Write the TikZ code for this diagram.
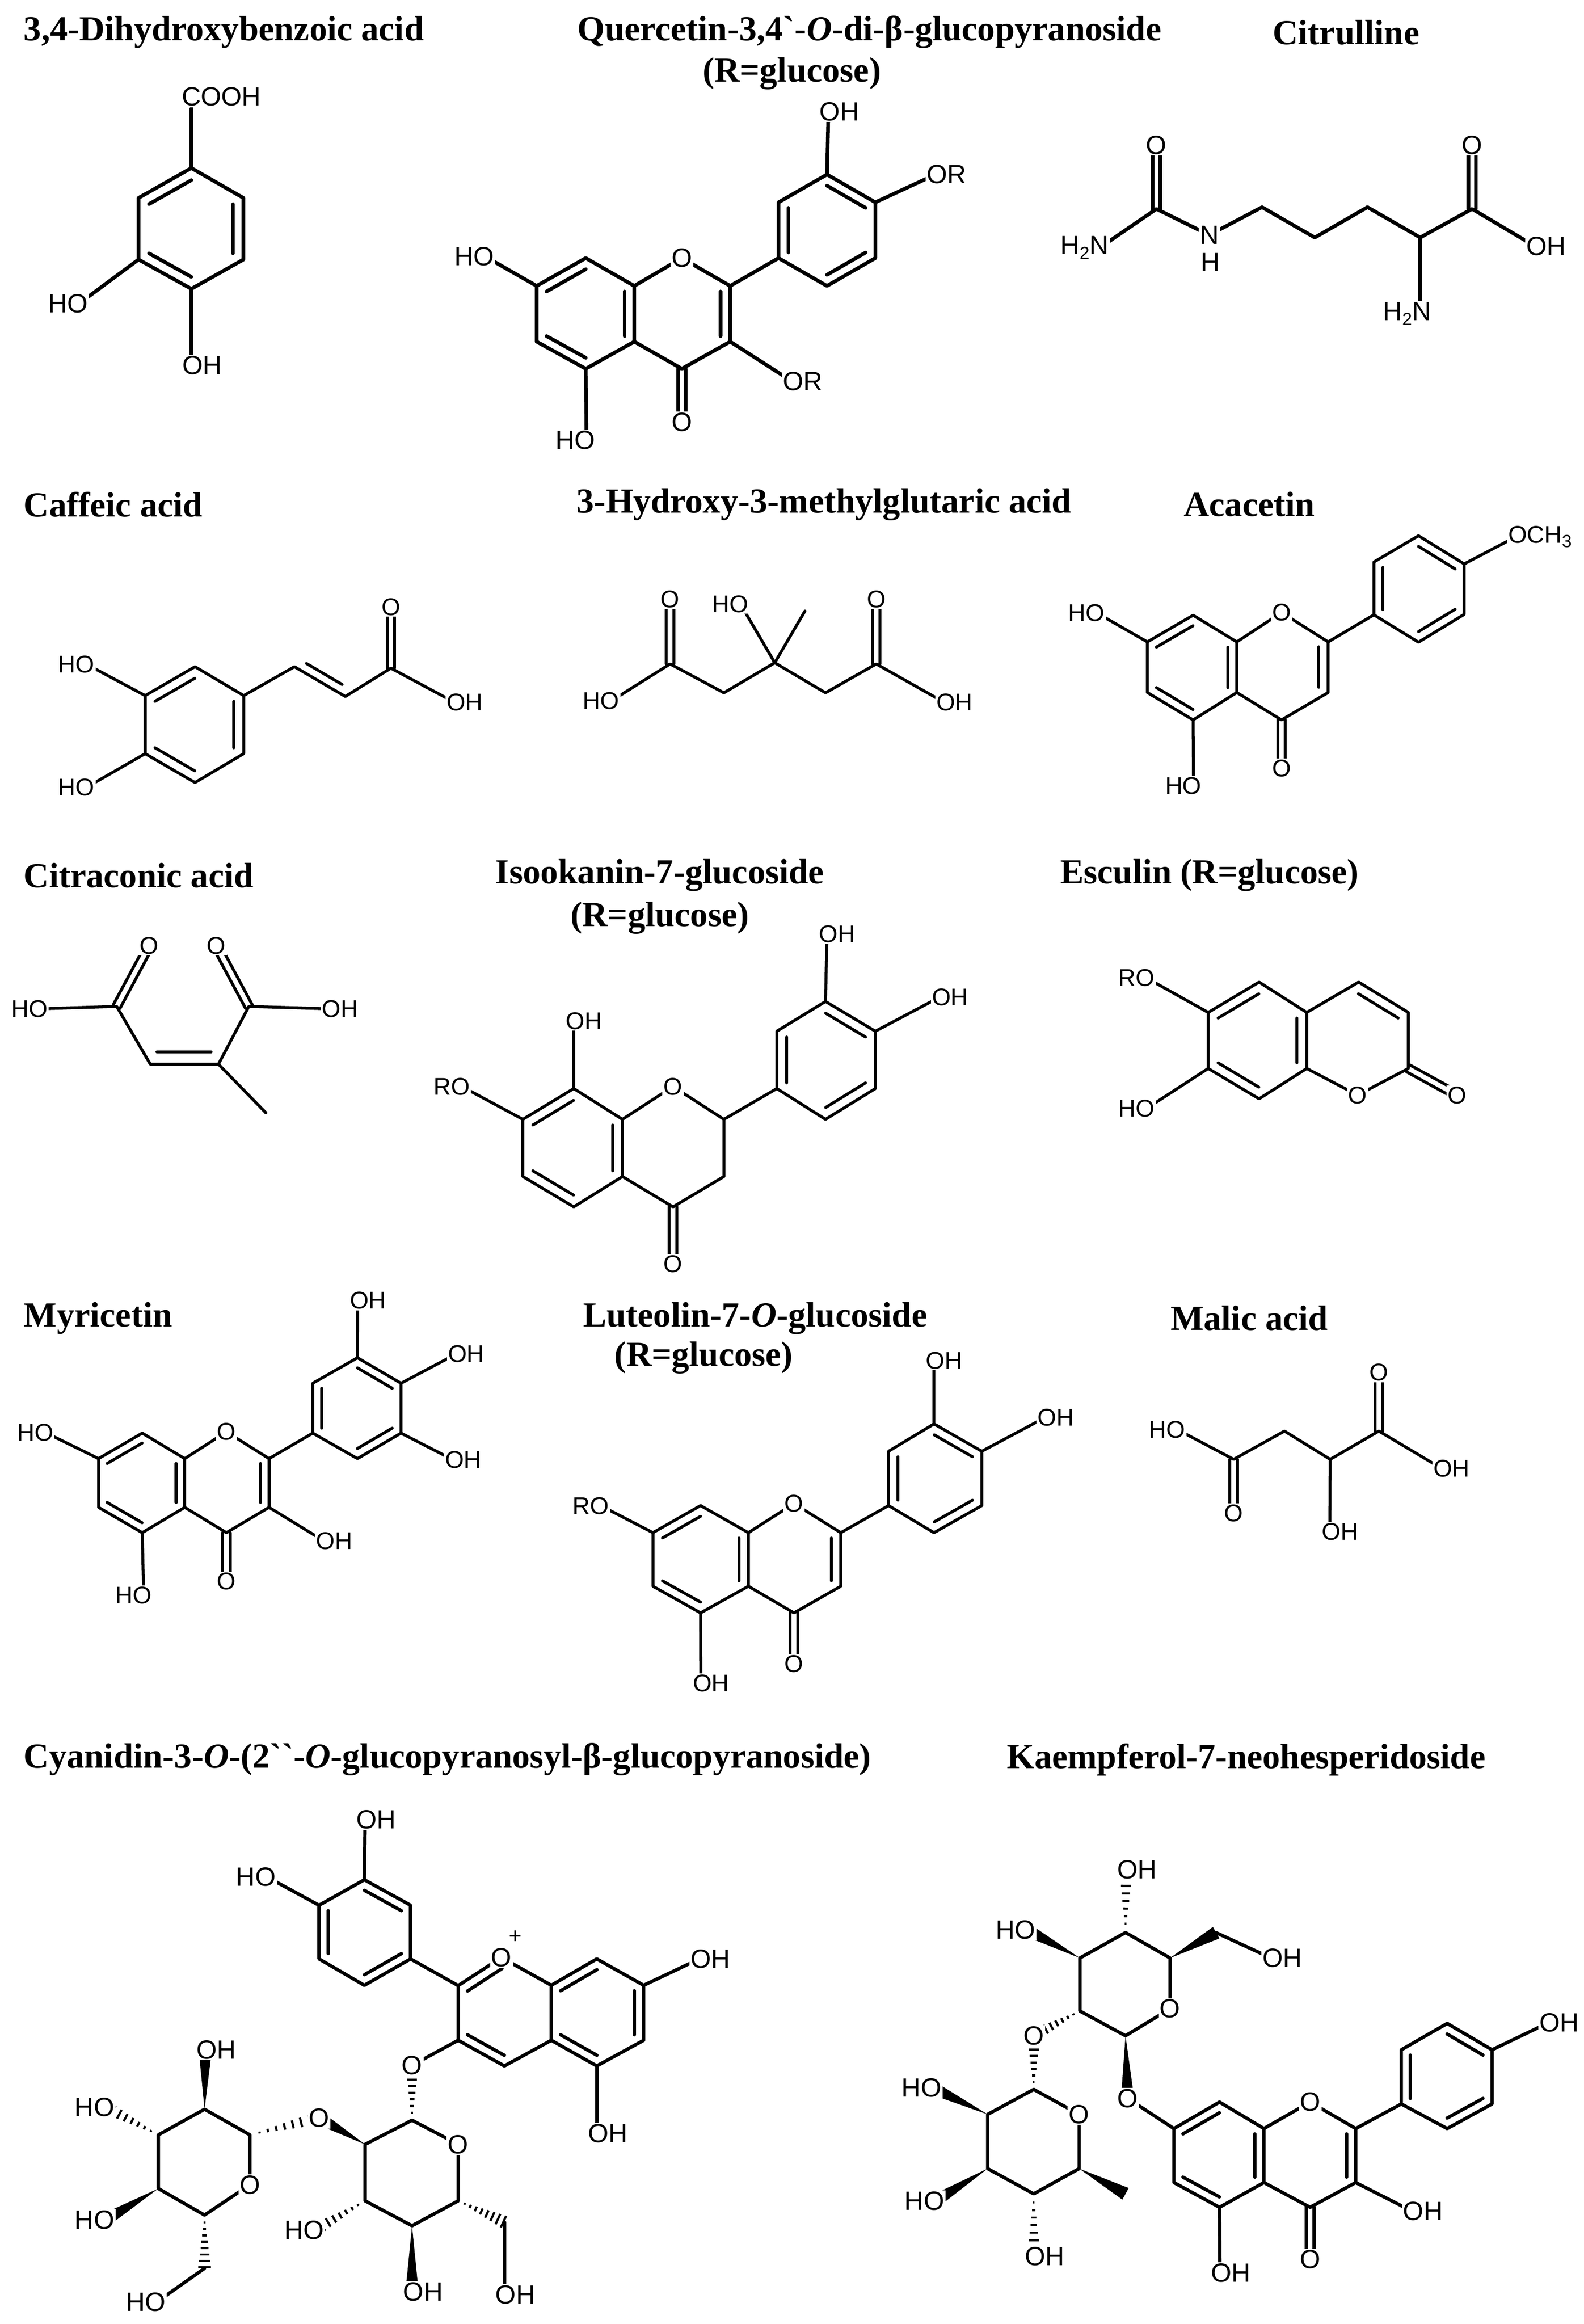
\documentclass[tikz,border=0pt]{standalone}
\usepackage{fontspec}
\setmainfont{Liberation Serif}
\newfontfamily\labf{Liberation Sans}
\usetikzlibrary{calc}
\newcommand\sbs[1]{\raisebox{-0.35ex}{\fontsize{12}{12}\selectfont #1}}
\newcommand\bb[2]{\draw[bd] (#1) -- (#2);}
\newcommand\ib[3]{\draw[bd] ($(#1)!0.2!(#3)$) -- ($(#2)!0.2!(#3)$);}
\newcommand\db[2]{\draw[bd] ($(#1)!2.6pt!90:(#2)$) -- ($(#2)!2.6pt!-90:(#1)$); \draw[bd] ($(#1)!2.6pt!-90:(#2)$) -- ($(#2)!2.6pt!90:(#1)$);}
\newcommand\wb[2]{\fill (#1) -- ($(#2)!4.5pt!90:(#1)$) -- ($(#2)!4.5pt!-90:(#1)$) -- cycle;}
\newcommand\wh[2]{\foreach \hh in {0.14,0.26,0.38,0.50,0.62,0.74,0.86,0.98}{\pgfmathsetmacro\dd{\hh*4.5}\draw[line width=1.5pt] ($(#1)!\hh!(#2)!\dd pt!90:(#1)$) -- ($(#1)!\hh!(#2)!\dd pt!-90:(#1)$);}}
\newcommand\hexr[1]{\draw[bd] (#11)--(#12)--(#13)--(#14)--(#15)--(#16)--cycle;}
\newcommand\HO[1]{\node[lab,anchor=east] at ($(#1)+(\ofs,0)$) {HO};}
\newcommand\OH[1]{\node[lab,anchor=west] at ($(#1)+(-\ofs,0)$) {OH};}
\newcommand\OR[1]{\node[lab,anchor=west] at ($(#1)+(-\ofs,0)$) {OR};}
\newcommand\RO[1]{\node[lab,anchor=east] at ($(#1)+(\ofs,0)$) {RO};}
\newcommand\Ol[1]{\node[lab] at (#1) {O};}
\begin{document}
\begin{tikzpicture}[x=1pt,y=-1pt,
 bd/.style={line width=\lw pt,line join=round,line cap=round},
 lab/.style={font=\labf\fontsize{\lsz}{\lsz}\selectfont,fill=white,inner sep=0.8pt},
 ttl/.style={font=\fontsize{24}{27}\selectfont\bfseries,inner sep=0pt}]
\fill[white] (0,0) rectangle (1080,1585);
\useasboundingbox (0,0) rectangle (1080,1585);
\def\lw{2.5}\def\lsz{18}\def\ofs{7}
% ---------- titles
\node[ttl,anchor=west] (t1) at (16,22) {3,4-Dihydroxybenzoic acid};
\node[ttl] (t2) at (593,22) {Quercetin-3,4\textasciigrave-\textit{O}-di-β-glucopyranoside};
\node[ttl] (t2b) at (540,50) {(R=glucose)};
\node[ttl] (t3) at (918,22) {Citrulline};
\node[ttl,anchor=west] (t4) at (16,344) {Caffeic acid};
\node[ttl] (t5) at (562,344) {3-Hydroxy-3-methylglutaric acid};
\node[ttl] (t6) at (852,344) {Acacetin};
\node[ttl,anchor=west] (t7) at (16,597) {Citraconic acid};
\node[ttl] (t8) at (450,597) {Isookanin-7-glucoside};
\node[ttl] (t8b) at (450,626) {(R=glucose)};
\node[ttl] (t9) at (825,597) {Esculin (R=glucose)};
\node[ttl,anchor=west] (t10) at (16,899) {Myricetin};
\node[ttl] (t11) at (515,899) {Luteolin-7-\textit{O}-glucoside};
\node[ttl] (t11b) at (480,926) {(R=glucose)};
\node[ttl] (t12) at (852,899) {Malic acid};
\node[ttl,anchor=west] (t13) at (16,1200) {Cyanidin-3-\textit{O}-(2\textasciigrave\textasciigrave-\textit{O}-glucopyranosyl-β-glucopyranoside)};
\node[ttl] (t14) at (850,1200) {Kaempferol-7-neohesperidoside};
% ---------- 3,4-dihydroxybenzoic acid
\coordinate (a1) at (130.5,114.6);\coordinate (a2) at (166,135);\coordinate (a3) at (166,177);
\coordinate (a4) at (130.5,197);\coordinate (a5) at (94.5,177);\coordinate (a6) at (94.5,135);
\coordinate (ac) at (130.3,156);\coordinate (aC) at (130.5,74);
\coordinate (aO1) at (54,207);\coordinate (aO2) at (130.5,249);
\hexr{a}\ib{a6}{a1}{ac}\ib{a2}{a3}{ac}\ib{a5}{a4}{ac}
\bb{a1}{aC}\bb{a5}{aO1}\bb{a4}{aO2}
\node[lab,anchor=west] at (123,66) {COOH};\HO{aO1}\OH{aO2}
% ---------- quercetin glucoside
\coordinate (q1) at (399.5,176);\coordinate (q2) at (432.6,195);\coordinate (q3) at (432.6,233);
\coordinate (q4) at (399.5,251.5);\coordinate (q5) at (366,233);\coordinate (q6) at (366,195);
\coordinate (qa) at (399.5,214);\coordinate (qc) at (465,214);
\coordinate (qO1) at (465,176);\coordinate (qC2) at (498,195);\coordinate (qC3) at (498,233);
\coordinate (qC4) at (465,251.5);\coordinate (qO4) at (465,288);
\coordinate (qO5) at (400,300);\coordinate (qO7) at (331,175);
\coordinate (qb1) at (564,119);\coordinate (qb2) at (597,138);\coordinate (qb3) at (597,176);
\coordinate (qb4) at (564,195);\coordinate (qb5) at (531,176);\coordinate (qb6) at (531,138);
\coordinate (qbc) at (564,157);
\coordinate (qO3p) at (565,76);\coordinate (qO4p) at (638,119);\coordinate (qO3) at (540,260);
\draw[bd] (q1)--(q2)--(q3)--(q4)--(q5)--(q6)--cycle;
\draw[bd] (q2)--(qO1)--(qC2)--(qC3)--(qC4)--(q3);
\draw[bd] (qb1)--(qb2)--(qb3)--(qb4)--(qb5)--(qb6)--cycle;
\ib{q6}{q1}{qa}\ib{q5}{q4}{qa}\ib{q2}{q3}{qa}\ib{qC2}{qC3}{qc}
\ib{qb6}{qb5}{qbc}\ib{qb1}{qb2}{qbc}\ib{qb3}{qb4}{qbc}
\db{qC4}{qO4}\bb{qC2}{qb5}\bb{q4}{qO5}\bb{q6}{qO7}\bb{qb1}{qO3p}\bb{qb2}{qO4p}\bb{qC3}{qO3}
\Ol{qO1}\Ol{qO4}\HO{qO5}\HO{qO7}\OH{qO3p}\OR{qO4p}\OR{qO3}
% ---------- citrulline
\coordinate (cO1) at (788.7,99);\coordinate (cC1) at (788.7,142.5);\coordinate (cN1) at (750,169);
\coordinate (cN) at (824.7,160.3);\coordinate (cH) at (825.5,179);
\coordinate (cc2) at (860.7,141.3);\coordinate (cc3) at (896.7,162);\coordinate (cc4) at (932.6,141.3);
\coordinate (cca) at (968.6,162);\coordinate (ccc) at (1004,142.5);\coordinate (cO2) at (1004,99);
\coordinate (cOH) at (1047,168);\coordinate (cN2) at (970,214);
\db{cC1}{cO1}\db{ccc}{cO2}
\draw[bd] (cN1)--(cC1)--(cN)--(cc2)--(cc3)--(cc4)--(cca)--(ccc)--(cOH);
\draw[bd] (cca)--(968.6,214);
\Ol{cO1}\Ol{cO2}\OH{cOH}
\node[lab,anchor=east] at ($(cN1)+(7,0)$) {H\sbs{2}N};
\node[lab,anchor=east] at ($(cN2)+(7,0)$) {H\sbs{2}N};
\node[lab] at (cN) {N};\node[lab,fill=none] at (cH) {H};
% ================= rows 2-4
\def\lw{2.0}\def\lsz{16.5}\def\ofs{6.4}
% ---------- caffeic acid
\coordinate (k1) at (133,454.7);\coordinate (k2) at (166.2,474.4);\coordinate (k3) at (166.2,514);
\coordinate (k4) at (133,533.7);\coordinate (k5) at (99,514);\coordinate (k6) at (99,474.4);
\coordinate (kc) at (132.6,494);
\coordinate (kO1) at (59,453);\coordinate (kO2) at (59,537);
\coordinate (kv1) at (200.8,454.7);\coordinate (kv2) at (235.5,475);\coordinate (kv3) at (266.6,455.7);
\coordinate (kO3) at (266.6,414);\coordinate (kO4) at (310,479);
\hexr{k}\ib{k6}{k1}{kc}\ib{k2}{k3}{kc}\ib{k5}{k4}{kc}
\bb{k6}{kO1}\bb{k5}{kO2}
\draw[bd] (k2)--(kv1)--(kv2)--(kv3)--(kO4);
\draw[bd] (209,452.5)--(233.3,466.8);
\db{kv3}{kO3}
\HO{kO1}\HO{kO2}\Ol{kO3}\OH{kO4}
% ---------- HMG acid
\coordinate (hc) at (528.4,452);\coordinate (hOc) at (505,412);\coordinate (hMe) at (549,416.7);
\coordinate (hl) at (493.7,472.5);\coordinate (hlc) at (457,452.8);\coordinate (hO1) at (457,408.8);
\coordinate (hO2) at (417,478);
\coordinate (hr) at (563,472.5);\coordinate (hrc) at (597.6,452.8);\coordinate (hO3) at (597.6,408.8);
\coordinate (hO4) at (644,479);
\draw[bd] (hO2)--(hlc)--(hl)--(hc)--(hr)--(hrc)--(hO4);
\bb{hc}{hOc}\bb{hc}{hMe}\db{hlc}{hO1}\db{hrc}{hO3}
\HO{hOc}\HO{hO2}\OH{hO4}\Ol{hO1}\Ol{hO3}
% ---------- acacetin
\coordinate (t1) at (813.7,419.6);\coordinate (t2) at (843.5,437.8);\coordinate (t3) at (843.5,472.3);
\coordinate (t4) at (813.7,491);\coordinate (t5) at (782.5,472.3);\coordinate (t6) at (782.5,437.8);
\coordinate (tA) at (813.3,455.5);\coordinate (tC) at (874,454.5);
\coordinate (tO1) at (874,417.7);\coordinate (tC2) at (905.8,437.8);\coordinate (tC3) at (905.8,472.3);
\coordinate (tC4) at (874,491);\coordinate (tO4) at (874,524);
\coordinate (tO5) at (814,536);\coordinate (tO7) at (748,418);
\coordinate (p1) at (967.4,365.4);\coordinate (p2) at (998.6,384.6);\coordinate (p3) at (998.6,419);
\coordinate (p4) at (967.4,438);\coordinate (p5) at (937,419.3);\coordinate (p6) at (937,383.3);
\coordinate (pc) at (967.6,401.7);\coordinate (pO) at (1034,366);
\hexr{t}\hexr{p}
\draw[bd] (t2)--(tO1)--(tC2)--(tC3)--(tC4)--(t3);
\ib{t6}{t1}{tA}\ib{t2}{t3}{tA}\ib{t5}{t4}{tA}\ib{tC2}{tC3}{tC}
\ib{p6}{p5}{pc}\ib{p1}{p2}{pc}\ib{p3}{p4}{pc}
\db{tC4}{tO4}\bb{tC2}{p5}\bb{t4}{tO5}\bb{t6}{tO7}\bb{p2}{pO}
\Ol{tO1}\Ol{tO4}\HO{tO5}\HO{tO7}
\node[lab,anchor=west] at ($(pO)+(-\ofs,0)$) {OCH\sbs{3}};
% ---------- citraconic acid
\coordinate (xO1) at (101.8,645);\coordinate (xC1) at (79.6,686.4);\coordinate (xO2) at (27,688);
\coordinate (xO3) at (147.5,645);\coordinate (xC2) at (169.7,686.4);\coordinate (xO4) at (225,688);
\coordinate (xCH) at (102.5,725.8);\coordinate (xCq) at (149,725.8);\coordinate (xMe) at (181.4,759);
\draw[bd] (xO2)--(xC1)--(xCH)--(xCq)--(xC2)--(xO4);
\bb{xCq}{xMe}\draw[bd] (107,717.5)--(144,717.5);
\db{xC1}{xO1}\db{xC2}{xO3}
\HO{xO2}\OH{xO4}\Ol{xO1}\Ol{xO3}
% ---------- isookanin glucoside
\coordinate (i1) at (391.3,742.4);\coordinate (i2) at (424.5,763.4);\coordinate (i3) at (424.5,802.4);
\coordinate (i4) at (391.3,823.1);\coordinate (i5) at (356.6,802.4);\coordinate (i6) at (356.6,763.4);
\coordinate (ic) at (390.6,782.8);
\coordinate (iO8) at (391.3,696.3);\coordinate (iO7) at (315,741);
\coordinate (iO1) at (459,741);\coordinate (iC2) at (493.7,763.4);\coordinate (iC3) at (493.7,802.4);
\coordinate (iC4) at (459,823.1);\coordinate (iO4) at (459,862);
\coordinate (j1) at (563,683);\coordinate (j2) at (597,703.3);\coordinate (j3) at (597,742.4);
\coordinate (j4) at (563,763.4);\coordinate (j5) at (529.8,742.4);\coordinate (j6) at (529.8,703.3);
\coordinate (jc) at (563.4,723);\coordinate (jO1) at (564,637);\coordinate (jO2) at (641,680);
\hexr{i}\hexr{j}
\draw[bd] (i2)--(iO1)--(iC2)--(iC3)--(iC4)--(i3);
\ib{i6}{i1}{ic}\ib{i2}{i3}{ic}\ib{i5}{i4}{ic}
\ib{j1}{j2}{jc}\ib{j6}{j5}{jc}\ib{j3}{j4}{jc}
\db{iC4}{iO4}\bb{iC2}{j5}\bb{i1}{iO8}\bb{i6}{iO7}\bb{j1}{jO1}\bb{j2}{jO2}
\OH{iO8}\RO{iO7}\Ol{iO1}\Ol{iO4}\OH{jO1}\OH{jO2}
% ---------- esculin
\coordinate (e1) at (858.7,669.8);\coordinate (e2) at (891.2,690.5);\coordinate (e3) at (891.2,728.7);
\coordinate (e4) at (858.7,749.4);\coordinate (e5) at (824,728.7);\coordinate (e6) at (824,690.5);
\coordinate (ec) at (857.8,709.6);
\coordinate (f1) at (926.6,669.8);\coordinate (f2) at (960.5,690.5);\coordinate (f3) at (960.5,728.7);
\coordinate (fO1) at (925.9,746.9);\coordinate (fO2) at (993.7,746.9);\coordinate (fc) at (925.9,709.6);
\coordinate (eO6) at (782,667);\coordinate (eO7) at (782,756);
\hexr{e}
\draw[bd] (e2)--(f1)--(f2)--(f3)--(fO1)--(e3);
\ib{e6}{e1}{ec}\ib{e2}{e3}{ec}\ib{e5}{e4}{ec}\ib{f1}{f2}{fc}
\db{f3}{fO2}\bb{e6}{eO6}\bb{e5}{eO7}
\RO{eO6}\HO{eO7}\Ol{fO1}\Ol{fO2}
% ---------- myricetin
\coordinate (m1) at (97,977.4);\coordinate (m2) at (126,994.8);\coordinate (m3) at (126,1028);
\coordinate (m4) at (97,1045.3);\coordinate (m5) at (67.2,1028);\coordinate (m6) at (67.2,994.8);
\coordinate (mA) at (96.6,1011.4);\coordinate (mC) at (154.4,1011.4);
\coordinate (mO1) at (154.4,976.5);\coordinate (mC2) at (183.5,994.8);\coordinate (mC3) at (183.5,1028);
\coordinate (mC4) at (154.4,1045.3);\coordinate (mO4) at (154.4,1078.5);
\coordinate (mO5) at (98,1088);\coordinate (mO7) at (31,977);\coordinate (mO3) at (221,1051);
\coordinate (n1) at (243.8,926);\coordinate (n2) at (273.5,943.4);\coordinate (n3) at (273.5,977.4);
\coordinate (n4) at (243.8,994.8);\coordinate (n5) at (213.3,977.4);\coordinate (n6) at (213.3,943.4);
\coordinate (nc) at (243.5,960.4);
\coordinate (nO1) at (244,887);\coordinate (nO2) at (311,923.5);\coordinate (nO3) at (309,995.6);
\hexr{m}\hexr{n}
\draw[bd] (m2)--(mO1)--(mC2)--(mC3)--(mC4)--(m3);
\ib{m6}{m1}{mA}\ib{m2}{m3}{mA}\ib{m5}{m4}{mA}\ib{mC2}{mC3}{mC}
\ib{n1}{n2}{nc}\ib{n6}{n5}{nc}\ib{n3}{n4}{nc}
\db{mC4}{mO4}\bb{mC2}{n5}\bb{m4}{mO5}\bb{m6}{mO7}\bb{mC3}{mO3}
\bb{n1}{nO1}\bb{n2}{nO2}\bb{n3}{nO3}
\Ol{mO1}\Ol{mO4}\HO{mO5}\HO{mO7}\OH{mO3}\OH{nO1}\OH{nO2}\OH{nO3}
% ---------- luteolin glucoside
\coordinate (l1) at (477.8,1026.8);\coordinate (l2) at (510.4,1045.3);\coordinate (l3) at (510.4,1081.8);
\coordinate (l4) at (477.8,1100);\coordinate (l5) at (445.3,1081.8);\coordinate (l6) at (445.3,1045.3);
\coordinate (lA) at (477.8,1063.4);\coordinate (lC) at (541.5,1063.4);
\coordinate (lO1) at (541.5,1025.4);\coordinate (lC2) at (573.4,1045.3);\coordinate (lC3) at (573.4,1081.8);
\coordinate (lC4) at (541.5,1100);\coordinate (lO4) at (541.5,1134.8);
\coordinate (lO7) at (410,1027);\coordinate (lO5) at (478,1148);
\coordinate (g1) at (637,971.1);\coordinate (g2) at (669.6,989.8);\coordinate (g3) at (669.6,1026.8);
\coordinate (g4) at (637,1045.3);\coordinate (g5) at (606,1026.8);\coordinate (g6) at (606,989.8);
\coordinate (gc) at (637.8,1008.5);\coordinate (gO1) at (637,928);\coordinate (gO2) at (713,966.6);
\hexr{l}\hexr{g}
\draw[bd] (l2)--(lO1)--(lC2)--(lC3)--(lC4)--(l3);
\ib{l6}{l1}{lA}\ib{l2}{l3}{lA}\ib{l5}{l4}{lA}\ib{lC2}{lC3}{lC}
\ib{g1}{g2}{gc}\ib{g6}{g5}{gc}\ib{g3}{g4}{gc}
\db{lC4}{lO4}\bb{lC2}{g5}\bb{l6}{lO7}\bb{l4}{lO5}\bb{g1}{gO1}\bb{g2}{gO2}
\RO{lO7}\OH{lO5}\Ol{lO1}\Ol{lO4}\OH{gO1}\OH{gO2}
% ---------- malic acid
\coordinate (zO1) at (803,975);\coordinate (zC1) at (841.4,995.3);\coordinate (zO2) at (841.4,1032);
\coordinate (zC2) at (876,976);\coordinate (zC3) at (907.2,995.3);\coordinate (zO3) at (907,1044.5);
\coordinate (zC4) at (940.4,976);\coordinate (zO4) at (940.4,936);\coordinate (zO5) at (983,1001.4);
\draw[bd] (zO1)--(zC1)--(zC2)--(zC3)--(zC4)--(zO5);
\bb{zC3}{zO3}\db{zC1}{zO2}\db{zC4}{zO4}
\HO{zO1}\Ol{zO2}\OH{zO3}\Ol{zO4}\OH{zO5}
% ================= row 5
\def\lw{2.3}\def\lsz{18}\def\ofs{7}
% ---------- cyanidin glycoside
\coordinate (u1) at (248.5,1282);\coordinate (u2) at (280,1299.4);\coordinate (u3) at (280,1336);
\coordinate (u4) at (248.5,1354);\coordinate (u5) at (217.6,1336);\coordinate (u6) at (217.6,1299.4);
\coordinate (uc) at (248.8,1318);
\coordinate (uO1) at (249,1241);\coordinate (uO2) at (182,1280);
\coordinate (yC2) at (312.5,1354.2);\coordinate (yO1) at (342,1335);\coordinate (y8a) at (376,1354);
\coordinate (y8) at (407,1336);\coordinate (y7) at (439,1354);\coordinate (y6) at (439,1391.5);
\coordinate (y5) at (407,1409);\coordinate (y4a) at (376,1391.5);\coordinate (y4) at (344,1409);
\coordinate (y3) at (312.5,1391.5);\coordinate (yC) at (344,1372.7);\coordinate (yA) at (407.5,1372.7);
\coordinate (yO7) at (477,1336);\coordinate (yO5) at (407,1455);\coordinate (yO3) at (281,1408.6);
\coordinate (s1) at (281,1446);\coordinate (sO) at (312.5,1462.5);\coordinate (s5) at (312.5,1501);
\coordinate (s4) at (281,1518);\coordinate (s3) at (249,1501);\coordinate (s2) at (249,1462.5);
\coordinate (sOg) at (217.6,1444.5);\coordinate (sO3) at (215,1521);\coordinate (sO4) at (281,1563);
\coordinate (s6) at (344,1515.5);\coordinate (sO6) at (344,1565);
\coordinate (w1) at (170.4,1456);\coordinate (wO) at (170.4,1490);\coordinate (w5) at (139.5,1510.7);
\coordinate (w4) at (108,1492.6);\coordinate (w3) at (108,1456);\coordinate (w2) at (139.5,1438.5);
\coordinate (wO2) at (140,1398);\coordinate (wO3) at (72,1437);\coordinate (wO4) at (72,1514);
\coordinate (w6) at (139.5,1547);\coordinate (wO6) at (107,1570);
\hexr{u}
\draw[bd] (yC2)--(yO1)--(y8a)--(y8)--(y7)--(y6)--(y5)--(y4a)--(y4)--(y3)--cycle;
\bb{y8a}{y4a}
\ib{u1}{u2}{uc}\ib{u6}{u5}{uc}\ib{u3}{u4}{uc}
\ib{yO1}{yC2}{yC}\ib{y3}{y4}{yC}\ib{y8a}{y8}{yA}\ib{y7}{y6}{yA}\ib{y5}{y4a}{yA}
\bb{u3}{yC2}\bb{u1}{uO1}\bb{u6}{uO2}\bb{y7}{yO7}\bb{y5}{yO5}\bb{y3}{yO3}
\draw[bd] (s1)--(sO)--(s5)--(s4)--(s3)--(s2)--cycle;
\draw[bd] (w1)--(wO)--(w5)--(w4)--(w3)--(w2)--cycle;
\wh{s1}{yO3}\wb{s2}{sOg}\wh{s3}{sO3}\wb{s4}{sO4}\wh{s5}{s6}\bb{s6}{sO6}
\wh{w1}{sOg}\wb{w2}{wO2}\wh{w3}{wO3}\wb{w4}{wO4}\wh{w5}{w6}\bb{w6}{wO6}
\OH{uO1}\HO{uO2}\Ol{yO1}\node[lab,fill=none,font=\labf\fontsize{15}{15}\selectfont] at (351.5,1321) {+};
\OH{yO7}\OH{yO5}\Ol{yO3}\Ol{sO}\Ol{sOg}\HO{sO3}\OH{sO4}\OH{sO6}
\Ol{wO}\OH{wO2}\HO{wO3}\HO{wO4}\HO{wO6}
% ---------- kaempferol neohesperidoside
\coordinate (v4) at (767.6,1318);\coordinate (v5) at (798,1335.4);\coordinate (vO) at (798,1370);
\coordinate (v1) at (767.6,1388.4);\coordinate (v2) at (736.5,1371.5);\coordinate (v3) at (736.5,1335.4);
\coordinate (vO4) at (768,1275);\coordinate (vO3) at (700,1316);\coordinate (v6) at (829.4,1318.1);
\coordinate (vO6) at (867,1335.4);\coordinate (vO7) at (769,1431);\coordinate (vO2) at (705,1388.4);
\coordinate (r1) at (705,1425);\coordinate (rO) at (736,1442);\coordinate (r5) at (736,1479);
\coordinate (r4) at (705,1496.2);\coordinate (r3) at (673.6,1479);\coordinate (r2) at (673.6,1442);
\coordinate (rO2) at (636,1424);\coordinate (rO3) at (638,1501);\coordinate (rO4) at (705,1539);
\coordinate (rMe) at (767.6,1496.2);
\coordinate (o8) at (831.7,1433.6);\coordinate (o8a) at (862,1451.7);\coordinate (o4a) at (862,1488.5);
\coordinate (o5) at (831.7,1505.4);\coordinate (o6) at (800.6,1488.5);\coordinate (o7) at (800.6,1451.7);
\coordinate (oA) at (831.4,1470);\coordinate (oC) at (893.5,1470);
\coordinate (oO1) at (893.5,1433.6);\coordinate (oC2) at (924.6,1451.7);\coordinate (oC3) at (924.6,1488.5);
\coordinate (oC4) at (893.5,1505.4);\coordinate (oO4) at (893.5,1540.8);
\coordinate (oO3) at (963,1508);\coordinate (oO5) at (832,1550);
\coordinate (b1) at (987,1380);\coordinate (b2) at (1017.6,1398);\coordinate (b3) at (1017.6,1434.9);
\coordinate (b4) at (987,1451.7);\coordinate (b5) at (955.7,1434.9);\coordinate (b6) at (955.7,1398);
\coordinate (bc) at (986.6,1416);\coordinate (bO) at (1056,1379.5);
\draw[bd] (v1)--(vO)--(v5)--(v4)--(v3)--(v2)--cycle;
\draw[bd] (r1)--(rO)--(r5)--(r4)--(r3)--(r2)--cycle;
\wh{v4}{vO4}\wb{v3}{vO3}\wb{v5}{v6}\bb{v6}{vO6}\wb{v1}{vO7}\wh{v2}{vO2}
\wh{r1}{vO2}\wb{r2}{rO2}\wb{r3}{rO3}\wh{r4}{rO4}\wb{r5}{rMe}
\draw[bd] (o7)--(o8)--(o8a)--(o4a)--(o5)--(o6)--cycle;
\draw[bd] (o8a)--(oO1)--(oC2)--(oC3)--(oC4)--(o4a);
\hexr{b}
\ib{o7}{o8}{oA}\ib{o6}{o5}{oA}\ib{o8a}{o4a}{oA}\ib{oC2}{oC3}{oC}
\ib{b6}{b5}{bc}\ib{b1}{b2}{bc}\ib{b3}{b4}{bc}
\db{oC4}{oO4}\bb{vO7}{o7}\bb{oC2}{b5}\bb{oC3}{oO3}\bb{o5}{oO5}\bb{b2}{bO}
\OH{vO4}\HO{vO3}\OH{vO6}\Ol{vO}\Ol{vO7}\Ol{vO2}
\Ol{rO}\HO{rO2}\HO{rO3}\OH{rO4}
\Ol{oO1}\Ol{oO4}\OH{oO3}\OH{oO5}\OH{bO}
\end{tikzpicture}
\end{document}
